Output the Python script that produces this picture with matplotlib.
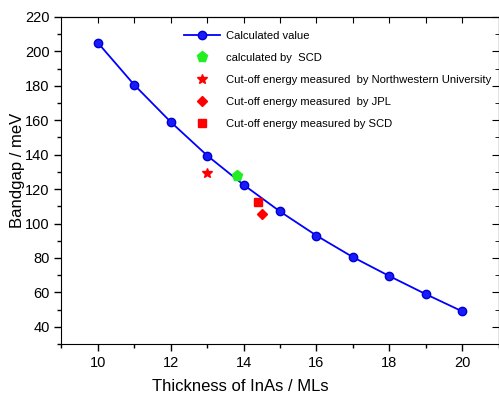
import matplotlib
matplotlib.use("Agg")
import matplotlib.pyplot as plt
from matplotlib.ticker import MultipleLocator

plt.rcParams['font.family'] = ['Liberation Sans', 'DejaVu Sans']

# data
thickness = [10, 11, 12, 13, 14, 15, 16, 17, 18, 19, 20]
bandgap = [205, 180.5, 159, 139.5, 122.5, 107, 93, 80.5, 69.5, 59, 49]

scd_calc_x, scd_calc_y = [13.82], [127.8]
nw_x, nw_y = [13.0], [129.2]
jpl_x, jpl_y = [14.5], [105.8]
scd_meas_x, scd_meas_y = [14.4], [112.7]

fig = plt.figure(figsize=(4.99, 3.95), dpi=100)
ax = fig.add_axes([0.1232, 0.129, 0.876, 0.828])

ax.plot(thickness, bandgap, color='#0000ff', lw=1.3, marker='o', ms=6,
        mfc='#1a1aff', mec='#0000cc', label='Calculated value')
ax.plot(scd_calc_x, scd_calc_y, ls='none', marker='p', ms=8, color='#22ee22',
        label='calculated by  SCD')
ax.plot(nw_x, nw_y, ls='none', marker='*', ms=7, color='#ff0000',
        label='Cut-off energy measured  by Northwestern University')
ax.plot(jpl_x, jpl_y, ls='none', marker='D', ms=5.5, color='#ff0000',
        label='Cut-off energy measured  by JPL')
ax.plot(scd_meas_x, scd_meas_y, ls='none', marker='s', ms=5.5, color='#ff0000',
        label='Cut-off energy measured by SCD')

ax.set_xlim(9, 21)
ax.set_ylim(30, 220)
ax.xaxis.set_major_locator(MultipleLocator(2))
ax.xaxis.set_minor_locator(MultipleLocator(1))
ax.yaxis.set_major_locator(MultipleLocator(20))
ax.yaxis.set_minor_locator(MultipleLocator(10))

ax.tick_params(which='both', direction='out', labelsize=10.5, width=1)
ax.tick_params(which='major', length=5)
ax.tick_params(which='minor', length=3)

# ticks pointing inward on the top and right sides
top = ax.secondary_xaxis('top')
top.set_xticks(range(10, 21))
top.tick_params(direction='in', length=4, labeltop=False)
right = ax.secondary_yaxis('right')
right.yaxis.set_major_locator(MultipleLocator(20))
right.yaxis.set_minor_locator(MultipleLocator(10))
right.tick_params(which='major', direction='in', length=5, labelright=False)
right.tick_params(which='minor', direction='in', length=3)

ax.set_xlabel('Thickness of InAs / MLs', fontsize=12)
ax.set_ylabel('Bandgap / meV', fontsize=12)
ax.xaxis.set_label_coords(0.41, -0.107)
ax.yaxis.set_label_coords(-0.083, 0.53)

ax.legend(loc='upper left', bbox_to_anchor=(0.271, 0.972), frameon=False,
          fontsize=8.15, handlelength=3.1, labelspacing=1.07, handletextpad=0.6,
          borderaxespad=0)

fig.savefig('out.png', dpi=100)
